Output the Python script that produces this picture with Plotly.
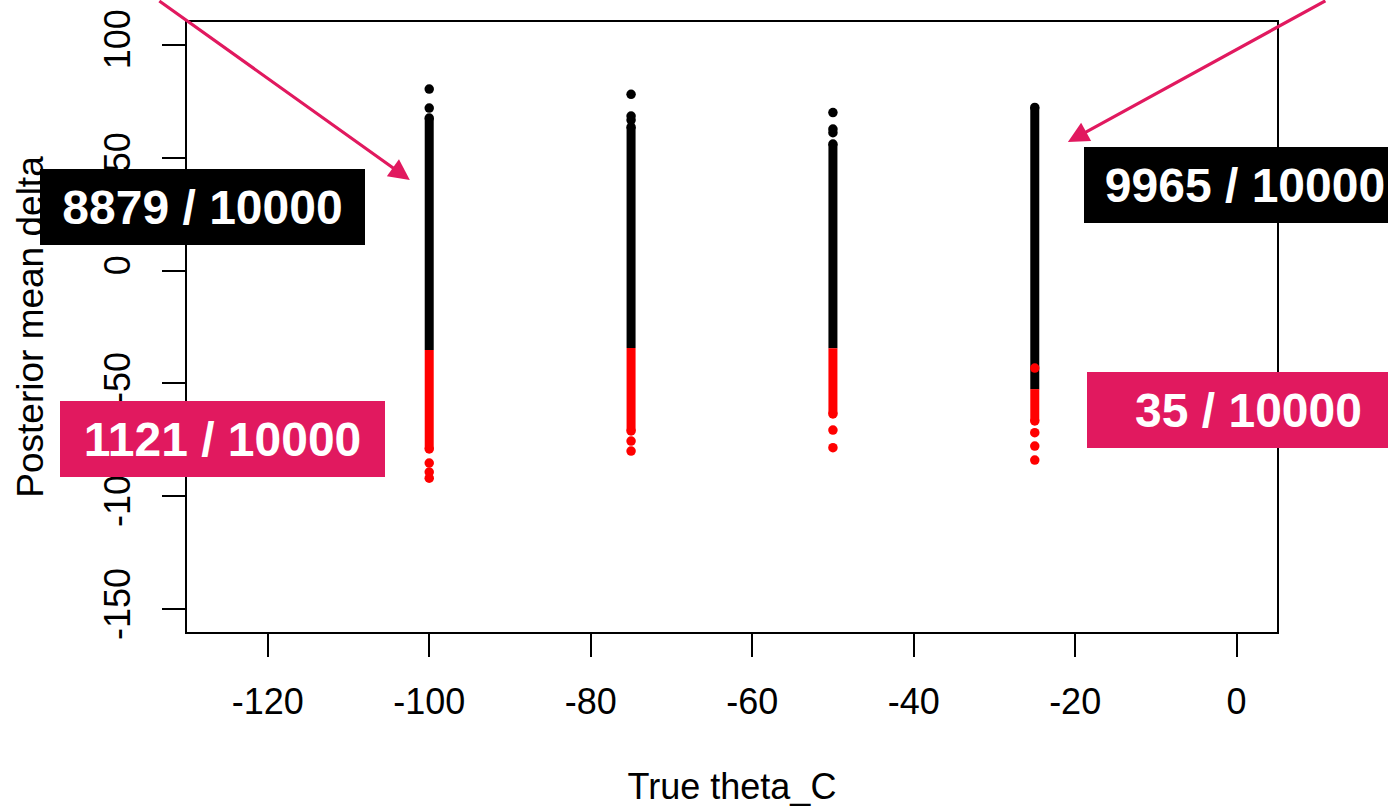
import plotly.graph_objects as go

# True theta_C settings (one column of simulation results each)
theta_c = [-100, -75, -50, -25]

# Dense runs of posterior means: black from the top down to the split, red below
black_top = [67.5, 63.5, 56.0, 72.2]
split_val = [-35.2, -34.3, -34.4, -52.5]
red_bottom = [-79.0, -71.0, -63.5, -66.6]

# Isolated posterior means outside the dense runs
black_pts_x = [-100, -100, -75, -75, -75, -50, -50, -50]
black_pts_y = [80.3, 71.9, 78.0, 68.4, 66.6, 69.9, 62.6, 61.0]
red_pts_x = [-100, -100, -100, -75, -75, -50, -50, -25, -25, -25, -25]
red_pts_y = [-85.2, -89.2, -91.9, -75.5, -79.9, -70.6, -78.4, -43.2, -71.8, -77.7, -83.9]

# Tick values and labels (plain hyphen minus)
x_ticks = [-120, -100, -80, -60, -40, -20, 0]
x_tick_text = ["-120", "-100", "-80", "-60", "-40", "-20", "0"]
y_ticks = [-150, -100, -50, 0, 50, 100]
y_tick_text = ["-150", "-100", "-50", "0", "50", "100"]

# Count labels
count_labels = ["8879 / 10000", "9965 / 10000", "1121 / 10000", "35 / 10000"]

FONT = "Liberation Sans, Arial, sans-serif"
PINK = "#E1195F"
W, H = 1388, 807
L, R, T, B = 187, 111, 22, 175

fig = go.Figure()


def run_xy(xs, lo, hi):
    x, y = [], []
    for xv, a, b in zip(xs, lo, hi):
        x += [xv, xv, None]
        y += [a, b, None]
    return x, y


bx, by = run_xy(theta_c, black_top, split_val)
fig.add_trace(go.Scatter(x=bx, y=by, mode="lines",
                         line=dict(color="black", width=9), hoverinfo="skip"))
fig.add_trace(go.Scatter(x=theta_c, y=black_top, mode="markers",
                         marker=dict(color="black", size=9.5), hoverinfo="skip"))
fig.add_trace(go.Scatter(x=black_pts_x, y=black_pts_y, mode="markers",
                         marker=dict(color="black", size=9.5)))

rx, ry = run_xy(theta_c, split_val, red_bottom)
fig.add_trace(go.Scatter(x=rx, y=ry, mode="lines",
                         line=dict(color="#FF0000", width=9), hoverinfo="skip"))
fig.add_trace(go.Scatter(x=theta_c, y=red_bottom, mode="markers",
                         marker=dict(color="#FF0000", size=9.5), hoverinfo="skip"))
fig.add_trace(go.Scatter(x=red_pts_x, y=red_pts_y, mode="markers",
                         marker=dict(color="#FF0000", size=9.5)))

axis_common = dict(
    showline=True, linecolor="black", linewidth=1.5, mirror=True,
    ticks="outside", ticklen=23, tickwidth=1.5, tickcolor="black",
    showgrid=False, zeroline=False, automargin=False,
    tickfont=dict(family=FONT, size=36, color="black"),
)

fig.update_layout(
    width=W, height=H,
    margin=dict(l=L, r=R, t=T, b=B),
    paper_bgcolor="white", plot_bgcolor="white",
    showlegend=False,
    xaxis=dict(range=[-130, 5], tickvals=x_ticks, ticktext=x_tick_text, ticklabelstandoff=14,
               title=dict(text="True theta_C", font=dict(family=FONT, size=36, color="black"),
                          standoff=62),
               **axis_common),
    yaxis=dict(range=[-160, 110], tickvals=y_ticks, ticktext=y_tick_text, tickangle=-90,
               ticklabelstandoff=18,
               title=dict(text="Posterior mean delta", font=dict(family=FONT, size=37, color="black"),
                          standoff=42),
               **axis_common),
)


def px_to_paper(px, py):
    return (px - L) / (W - L - R), (H - B - py) / (H - T - B)


# Count boxes: (label index, centre x px, centre y px, width, background)
boxes = [
    (0, 202.5, 206.5, 325, "black"),
    (1, 1245.0, 185.0, 322, "black"),
    (2, 222.5, 439.5, 325, PINK),
    (3, 1248.5, 410.0, 323, PINK),
]
for idx, cx, cy, bw, bg in boxes:
    xp, yp = px_to_paper(cx, cy)
    fig.add_annotation(
        x=xp, y=yp, xref="paper", yref="paper", xanchor="center", yanchor="middle",
        text="<b>" + count_labels[idx] + "</b>", showarrow=False,
        width=bw, height=76, borderpad=0, borderwidth=0, bgcolor=bg,
        font=dict(family=FONT, size=48, color="white"),
    )

# Arrows pointing at the first and last columns
fig.add_annotation(x=-102.4, y=40.1, xref="x", yref="y", ax=-252, ay=-180,
                   showarrow=True, arrowhead=2, arrowsize=1.3, arrowwidth=3.2,
                   arrowcolor=PINK, text="")
fig.add_annotation(x=-20.9, y=56.9, xref="x", yref="y", ax=259, ay=-142,
                   showarrow=True, arrowhead=2, arrowsize=1.3, arrowwidth=3.2,
                   arrowcolor=PINK, text="")

fig.write_html("out.html")
